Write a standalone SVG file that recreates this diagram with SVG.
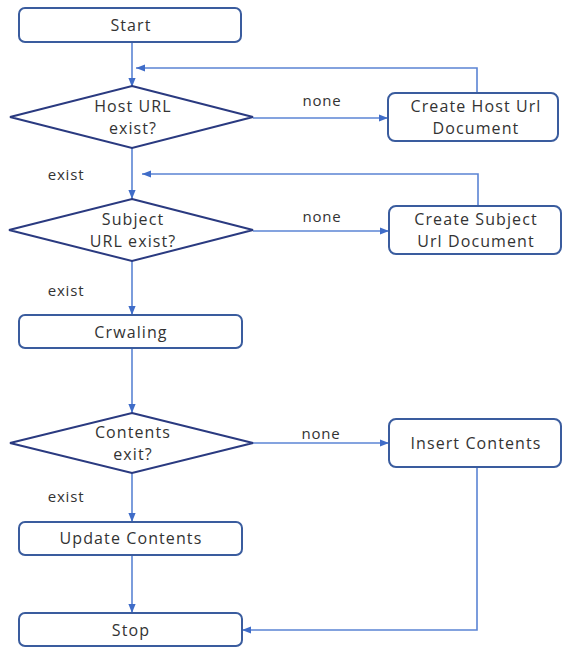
<svg xmlns="http://www.w3.org/2000/svg" width="563" height="648" viewBox="0 0 563 648">
<style>
.box{fill:#fff;stroke:#3A5C9E;stroke-width:2}
.dia{fill:#fff;stroke:#2A3A80;stroke-width:2}
.t{font-family:"Open Sans","Noto Sans",sans-serif;font-size:16px;letter-spacing:1.1px;fill:#333;text-anchor:middle;dominant-baseline:central}
.lbl{font-family:"Open Sans","Noto Sans",sans-serif;font-size:15px;letter-spacing:0.8px;fill:#333;text-anchor:middle;dominant-baseline:central}
.c{fill:none;stroke:#5B84D4;stroke-width:1.6}
</style>
<defs>
<marker id="ah2" viewBox="0 0 10 10" refX="10" refY="5" markerWidth="9" markerHeight="9" markerUnits="userSpaceOnUse" orient="auto">
<path d="M0,1 L10,5 L0,9 z" fill="#3F6CC8"/>
</marker>
</defs>
<rect width="563" height="648" fill="#fff"/>
<g id="connectors">
<path class="c" d="M132,42 V87" marker-end="url(#ah2)"/>
<path class="c" d="M477,93 V68 H136" marker-end="url(#ah2)"/>
<path class="c" d="M253,118 H388" marker-end="url(#ah2)"/>
<path class="c" d="M132,148 V199" marker-end="url(#ah2)"/>
<path class="c" d="M478,206 V174 H142" marker-end="url(#ah2)"/>
<path class="c" d="M253,231 H389" marker-end="url(#ah2)"/>
<path class="c" d="M132,261 V315" marker-end="url(#ah2)"/>
<path class="c" d="M132,348 V413" marker-end="url(#ah2)"/>
<path class="c" d="M253,443 H389" marker-end="url(#ah2)"/>
<path class="c" d="M132,473 V522" marker-end="url(#ah2)"/>
<path class="c" d="M132,555 V613" marker-end="url(#ah2)"/>
<path class="c" d="M477,467 V630 H242" marker-end="url(#ah2)"/>
<text class="lbl" x="322" y="100">none</text>
<text class="lbl" x="322" y="216">none</text>
<text class="lbl" x="321" y="433">none</text>
<text class="lbl" x="66" y="174">exist</text>
<text class="lbl" x="66" y="290">exist</text>
<text class="lbl" x="66" y="496">exist</text>
</g>
<g id="start"><rect class="box" x="19" y="8" width="222" height="34" rx="6"/><text class="t" x="131" y="25">Start</text></g>
<g id="host-url-exist"><polygon class="dia" points="132,86 253,117 132,148 10,117"/><text class="t" x="133" y="106">Host URL</text><text class="t" x="133" y="128">exist?</text></g>
<g id="create-host"><rect class="box" x="388" y="93" width="170" height="48" rx="7"/><text class="t" x="476" y="106">Create Host Url</text><text class="t" x="476" y="128">Document</text></g>
<g id="subject-url-exist"><polygon class="dia" points="132,199 253,230 132,261 9,230"/><text class="t" x="133" y="219">Subject</text><text class="t" x="133" y="241">URL exist?</text></g>
<g id="create-subject"><rect class="box" x="389" y="206" width="172" height="48" rx="7"/><text class="t" x="476" y="219">Create Subject</text><text class="t" x="476" y="241">Url Document</text></g>
<g id="crawling"><rect class="box" x="19" y="315" width="223" height="33" rx="6"/><text class="t" x="131" y="332">Crwaling</text></g>
<g id="contents-exit"><polygon class="dia" points="132,413 253,443 132,473 10,443"/><text class="t" x="133" y="432">Contents</text><text class="t" x="133" y="454">exit?</text></g>
<g id="insert-contents"><rect class="box" x="389" y="419" width="172" height="48" rx="7"/><text class="t" x="476" y="443">Insert Contents</text></g>
<g id="update-contents"><rect class="box" x="19" y="522" width="223" height="33" rx="6"/><text class="t" x="131" y="538">Update Contents</text></g>
<g id="stop"><rect class="box" x="19" y="613" width="223" height="33" rx="6"/><text class="t" x="131" y="630">Stop</text></g>
</svg>
